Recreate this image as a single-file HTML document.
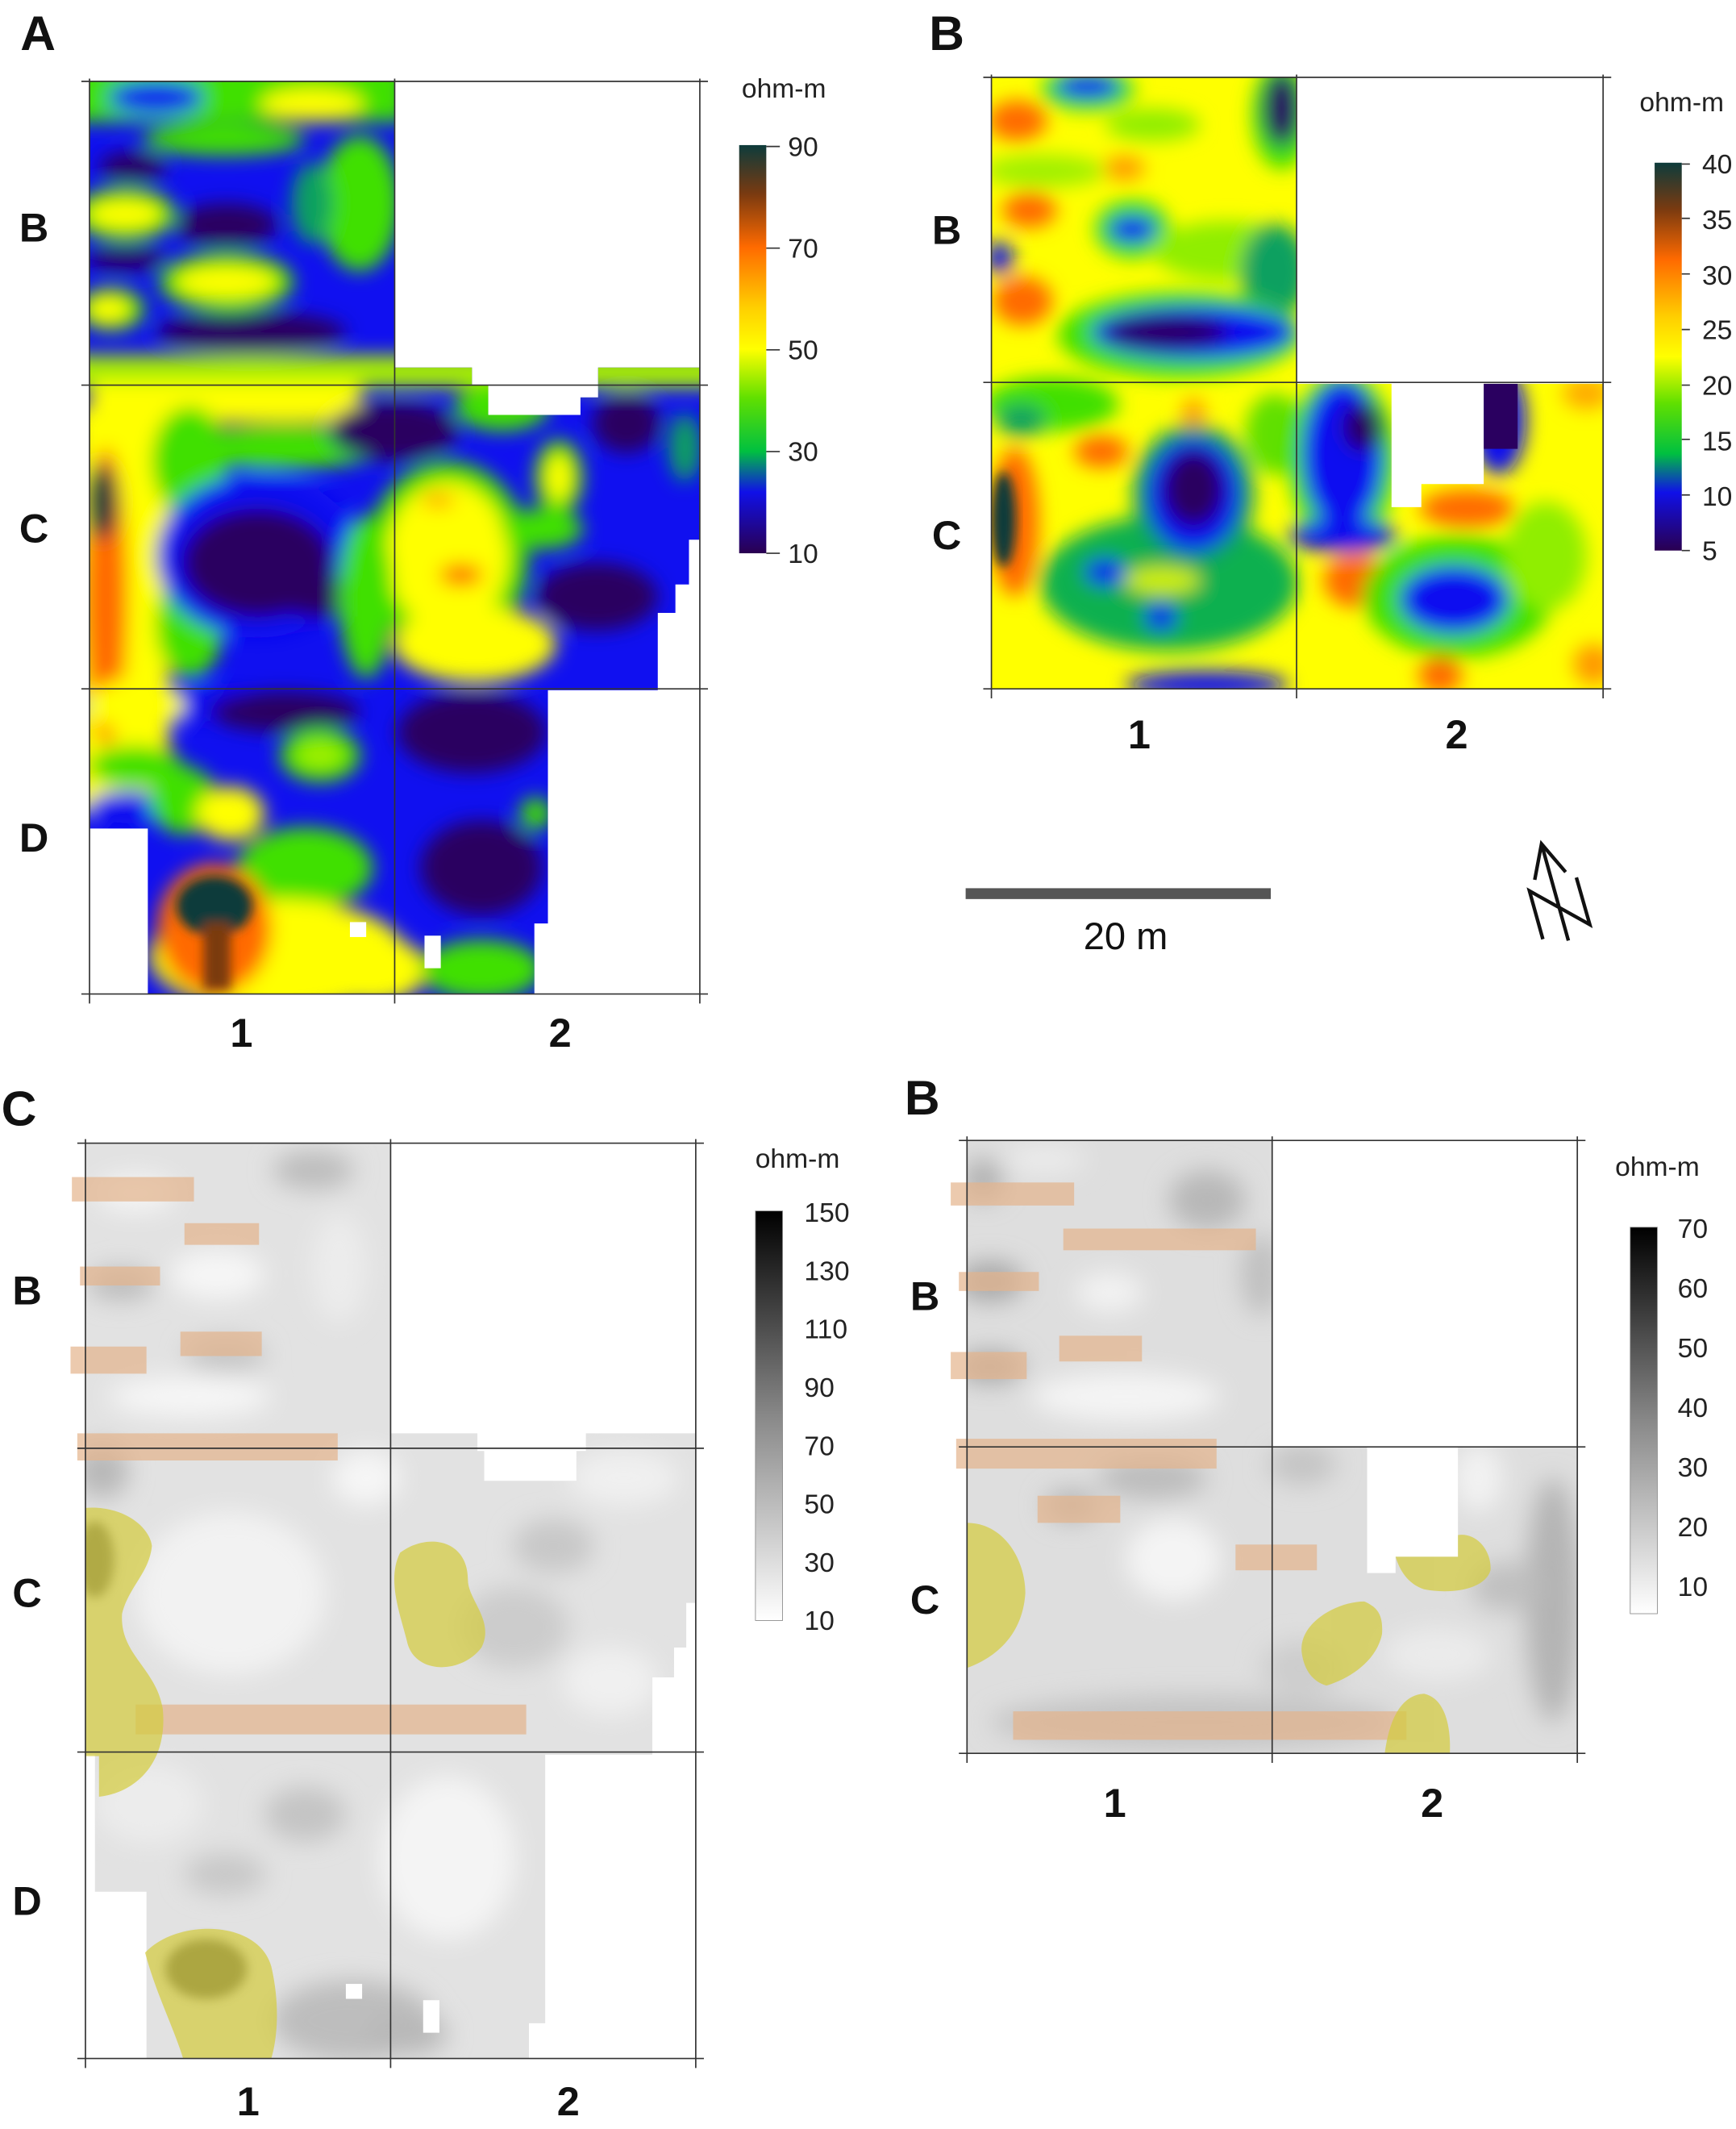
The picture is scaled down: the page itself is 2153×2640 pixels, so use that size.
<!DOCTYPE html>
<html><head><meta charset="utf-8"><style>
html,body{margin:0;padding:0;background:#fff}
svg{display:block}
text{font-family:"Liberation Sans",Arial,sans-serif}
.lab{font-size:30px;font-weight:bold;fill:#111}
.big{font-size:36px;font-weight:bold;fill:#111}
.tk{font-size:20px;fill:#222}
.un{font-size:20px;fill:#222}
</style></head><body>
<svg width="2153" height="2640" viewBox="0 0 1280 1570" preserveAspectRatio="none" xmlns="http://www.w3.org/2000/svg">
<defs>
<filter id="bl" x="-30%" y="-30%" width="160%" height="160%"><feGaussianBlur stdDeviation="7"/></filter>
<filter id="bs" x="-30%" y="-30%" width="160%" height="160%"><feGaussianBlur stdDeviation="4"/></filter>
<filter id="bg" x="-30%" y="-30%" width="160%" height="160%"><feGaussianBlur stdDeviation="9"/></filter>
<clipPath id="cA"><path d="M66,60H291V271H348V284H360V306H428V293H441V271H516V398H508V431H498V452H485V509H404V681H394V733H109V611H66Z"/></clipPath>
<clipPath id="cB"><path d="M731,57H956V283H1026V374H1048V357H1094V283H1182V508H731Z"/></clipPath>
<clipPath id="cC"><path d="M63,843H288V1057H352V1070H357V1092H425V1070H432V1057H513V1182H506V1215H497V1237H481V1294H402V1492H390V1518H108V1395H70V1294H63Z"/></clipPath>
<clipPath id="cD"><path d="M713,841H938V1067H1008V1160H1029V1148H1075V1067H1163V1293H713Z"/></clipPath>
<linearGradient id="gA" x1="0" y1="0" x2="0" y2="1">
<stop offset="0" stop-color="#0d3b3b"/><stop offset="0.12" stop-color="#7a3a10"/><stop offset="0.25" stop-color="#ff6a00"/><stop offset="0.4" stop-color="#ffd000"/><stop offset="0.5" stop-color="#ffff00"/><stop offset="0.62" stop-color="#60e000"/><stop offset="0.75" stop-color="#00c040"/><stop offset="0.85" stop-color="#1010e8"/><stop offset="1" stop-color="#2a0050"/></linearGradient>
<linearGradient id="gG" x1="0" y1="0" x2="0" y2="1"><stop offset="0" stop-color="#000"/><stop offset="0.5" stop-color="#888"/><stop offset="1" stop-color="#fff"/></linearGradient>
</defs>

<!-- Panel A -->
<g clip-path="url(#cA)">
<rect x="50" y="45" width="490" height="710" fill="#1010f0"/>
<g filter="url(#bl)">
<rect x="50" y="45" width="250" height="45" fill="#40e000"/>
<ellipse cx="230" cy="77" rx="38" ry="12" fill="#ffff00"/>
<ellipse cx="115" cy="72" rx="35" ry="12" fill="#1010f0"/>
<ellipse cx="165" cy="103" rx="60" ry="12" fill="#40e000"/>
<ellipse cx="98" cy="123" rx="25" ry="11" fill="#2a0060"/>
<ellipse cx="92" cy="158" rx="38" ry="20" fill="#40e000"/>
<ellipse cx="92" cy="158" rx="28" ry="11" fill="#ffff00"/>
<ellipse cx="167" cy="166" rx="38" ry="16" fill="#2a0060"/>
<ellipse cx="93" cy="191" rx="30" ry="9" fill="#2a0060"/>
<ellipse cx="167" cy="208" rx="50" ry="22" fill="#40e000"/>
<ellipse cx="167" cy="208" rx="38" ry="12" fill="#ffff00"/>
<ellipse cx="82" cy="228" rx="25" ry="16" fill="#40e000"/>
<ellipse cx="80" cy="228" rx="16" ry="10" fill="#ffff00"/>
<ellipse cx="185" cy="245" rx="70" ry="15" fill="#2a0060"/>
<ellipse cx="265" cy="150" rx="30" ry="50" fill="#40e000"/>
<ellipse cx="230" cy="150" rx="15" ry="30" fill="#10a060"/>
<rect x="50" y="262" width="490" height="24" fill="#a8f000"/>
<rect x="66" y="282" width="200" height="30" fill="#ffff00"/>
<ellipse cx="210" cy="330" rx="75" ry="16" fill="#40e000"/>
<ellipse cx="290" cy="318" rx="48" ry="22" fill="#2a0060"/>
<ellipse cx="370" cy="300" rx="35" ry="18" fill="#40e000"/>
<ellipse cx="462" cy="312" rx="25" ry="22" fill="#2a0060"/>
<ellipse cx="505" cy="330" rx="12" ry="25" fill="#10a060"/>
<rect x="55" y="300" width="70" height="300" fill="#ffff00"/>
<ellipse cx="78" cy="440" rx="16" ry="110" fill="#ff6a00"/>
<ellipse cx="75" cy="370" rx="12" ry="28" fill="#0d3b3b"/>
<ellipse cx="140" cy="340" rx="28" ry="40" fill="#40e000"/>
<ellipse cx="140" cy="460" rx="25" ry="40" fill="#40e000"/>
<ellipse cx="190" cy="410" rx="75" ry="60" fill="#1010f0"/>
<ellipse cx="190" cy="415" rx="55" ry="40" fill="#2a0060"/>
<ellipse cx="240" cy="440" rx="40" ry="15" fill="#2a0060"/>
<ellipse cx="330" cy="410" rx="60" ry="70" fill="#40e000"/>
<ellipse cx="330" cy="410" rx="45" ry="55" fill="#ffff00"/>
<ellipse cx="350" cy="475" rx="60" ry="28" fill="#ffff00"/>
<ellipse cx="270" cy="440" rx="20" ry="60" fill="#40e000"/>
<ellipse cx="340" cy="424" rx="16" ry="8" fill="#ff6a00"/>
<ellipse cx="323" cy="369" rx="12" ry="5" fill="#ff9900"/>
<ellipse cx="412" cy="352" rx="18" ry="28" fill="#40e000"/>
<ellipse cx="412" cy="352" rx="10" ry="18" fill="#ffff00"/>
<ellipse cx="400" cy="390" rx="30" ry="15" fill="#40e000"/>
<ellipse cx="440" cy="440" rx="45" ry="25" fill="#2a0060"/>
<ellipse cx="140" cy="520" rx="80" ry="12" fill="#1010f0"/>
<ellipse cx="100" cy="520" rx="35" ry="20" fill="#ffff00"/>
<ellipse cx="210" cy="525" rx="55" ry="15" fill="#2a0060"/>
<ellipse cx="236" cy="557" rx="30" ry="20" fill="#40e000"/>
<ellipse cx="236" cy="557" rx="18" ry="10" fill="#a0f000"/>
<ellipse cx="100" cy="565" rx="35" ry="15" fill="#40e000"/>
<ellipse cx="95" cy="595" rx="30" ry="12" fill="#1010f0"/>
<ellipse cx="135" cy="590" rx="25" ry="25" fill="#40e000"/>
<ellipse cx="170" cy="600" rx="25" ry="20" fill="#ffff00"/>
<ellipse cx="348" cy="540" rx="55" ry="30" fill="#2a0060"/>
<ellipse cx="355" cy="640" rx="45" ry="35" fill="#2a0060"/>
<ellipse cx="395" cy="600" rx="12" ry="12" fill="#40e000"/>
<ellipse cx="225" cy="640" rx="50" ry="30" fill="#40e000"/>
<ellipse cx="205" cy="705" rx="95" ry="42" fill="#ffff00"/>
<ellipse cx="275" cy="715" rx="40" ry="25" fill="#ffff00"/>
<ellipse cx="355" cy="715" rx="45" ry="22" fill="#40e000"/>
<ellipse cx="158" cy="685" rx="42" ry="48" fill="#ff6a00"/>
</g>
<g filter="url(#bs)">
<ellipse cx="158" cy="668" rx="28" ry="22" fill="#0d3b3b"/>
<rect x="150" y="680" width="20" height="50" fill="#7a3a10"/>
</g>
<rect x="258" y="680" width="12" height="11" fill="#fff"/>
<rect x="313" y="690" width="12" height="24" fill="#fff"/>
</g>
<path d="M66,58V740M291,58V740M516,58V740M60,60H522M60,284H522M60,508H522M60,733H522" stroke="#333" fill="none"/>
<text x="28" y="37" class="big" text-anchor="middle">A</text>
<text x="25" y="178" class="lab" text-anchor="middle">B</text>
<text x="25" y="400" class="lab" text-anchor="middle">C</text>
<text x="25" y="628" class="lab" text-anchor="middle">D</text>
<text x="178" y="772" class="lab" text-anchor="middle">1</text>
<text x="413" y="772" class="lab" text-anchor="middle">2</text>
<text x="578" y="72" class="un" text-anchor="middle">ohm-m</text>
<rect x="545" y="107" width="20" height="301" fill="url(#gA)"/>
<g class="tk"><text x="581" y="115">90</text><text x="581" y="190">70</text><text x="581" y="265">50</text><text x="581" y="340">30</text><text x="581" y="415">10</text></g>
<path d="M565,108h10M565,183h10M565,258h10M565,333h10M565,408h10" stroke="#333"/>

<!-- Panel B top -->
<g clip-path="url(#cB)">
<rect x="715" y="45" width="485" height="480" fill="#ffff00"/>
<g filter="url(#bl)">
<ellipse cx="802" cy="66" rx="35" ry="16" fill="#40e000"/>
<ellipse cx="802" cy="64" rx="24" ry="9" fill="#1010f0"/>
<ellipse cx="850" cy="92" rx="35" ry="12" fill="#90ee00"/>
<ellipse cx="945" cy="85" rx="22" ry="40" fill="#40e000"/>
<ellipse cx="945" cy="80" rx="14" ry="28" fill="#2a0060"/>
<ellipse cx="750" cy="89" rx="22" ry="15" fill="#ff6a00"/>
<ellipse cx="829" cy="124" rx="15" ry="9" fill="#ff9900"/>
<ellipse cx="770" cy="126" rx="45" ry="12" fill="#a0f000"/>
<ellipse cx="759" cy="155" rx="20" ry="13" fill="#ff6a00"/>
<ellipse cx="835" cy="169" rx="28" ry="22" fill="#40e000"/>
<ellipse cx="835" cy="169" rx="18" ry="10" fill="#1010f0"/>
<ellipse cx="737" cy="190" rx="10" ry="12" fill="#1010f0"/>
<ellipse cx="754" cy="222" rx="22" ry="18" fill="#ff6a00"/>
<ellipse cx="905" cy="185" rx="55" ry="22" fill="#90ee00"/>
<ellipse cx="940" cy="200" rx="25" ry="35" fill="#10a060"/>
<ellipse cx="870" cy="247" rx="90" ry="32" fill="#40e000"/>
<ellipse cx="880" cy="245" rx="75" ry="20" fill="#1010f0"/>
<ellipse cx="860" cy="245" rx="45" ry="12" fill="#2a0060"/>
<ellipse cx="775" cy="298" rx="50" ry="20" fill="#40e000"/>
<ellipse cx="753" cy="310" rx="18" ry="12" fill="#10a060"/>
<ellipse cx="812" cy="333" rx="20" ry="12" fill="#ff6a00"/>
<ellipse cx="880" cy="305" rx="8" ry="12" fill="#ff9900"/>
<ellipse cx="940" cy="320" rx="22" ry="30" fill="#60e000"/>
<ellipse cx="748" cy="385" rx="18" ry="55" fill="#ff6a00"/>
<ellipse cx="862" cy="430" rx="95" ry="50" fill="#10b050"/>
<ellipse cx="880" cy="365" rx="45" ry="52" fill="#10a060"/>
<ellipse cx="880" cy="365" rx="35" ry="42" fill="#1010f0"/>
<ellipse cx="880" cy="360" rx="22" ry="28" fill="#2a0060"/>
<ellipse cx="857" cy="428" rx="28" ry="10" fill="#d0f000"/>
<ellipse cx="815" cy="422" rx="15" ry="10" fill="#1010f0"/>
<ellipse cx="856" cy="455" rx="12" ry="10" fill="#1010f0"/>
<ellipse cx="890" cy="505" rx="60" ry="10" fill="#1010f0"/>
<ellipse cx="990" cy="340" rx="40" ry="65" fill="#40e000"/>
<ellipse cx="990" cy="335" rx="30" ry="55" fill="#1010f0"/>
<ellipse cx="1005" cy="315" rx="15" ry="18" fill="#2a0060"/>
<ellipse cx="1105" cy="310" rx="20" ry="40" fill="#1010f0"/>
<ellipse cx="1082" cy="375" rx="35" ry="14" fill="#ff6a00"/>
<ellipse cx="1000" cy="428" rx="24" ry="20" fill="#ff6a00"/>
<ellipse cx="1075" cy="440" rx="70" ry="45" fill="#40e000"/>
<ellipse cx="1072" cy="442" rx="40" ry="25" fill="#1010f0"/>
<ellipse cx="990" cy="395" rx="40" ry="12" fill="#1010f0"/>
<ellipse cx="1140" cy="410" rx="30" ry="40" fill="#90ee00"/>
<ellipse cx="1062" cy="498" rx="16" ry="14" fill="#ff6a00"/>
<ellipse cx="1170" cy="290" rx="18" ry="12" fill="#ffaa00"/>
<ellipse cx="1175" cy="490" rx="15" ry="15" fill="#ff9900"/>
</g>
<ellipse cx="740" cy="383" rx="9" ry="35" fill="#0d3b3b" filter="url(#bs)"/>
<rect x="1094" y="283" width="25" height="48" fill="#2a0060"/>
</g>
<path d="M731,55V515M956,55V515M1182,55V515M725,57H1188M725,282H1188M725,508H1188" stroke="#333" fill="none"/>
<text x="698" y="37" class="big" text-anchor="middle">B</text>
<text x="698" y="180" class="lab" text-anchor="middle">B</text>
<text x="698" y="405" class="lab" text-anchor="middle">C</text>
<text x="840" y="552" class="lab" text-anchor="middle">1</text>
<text x="1074" y="552" class="lab" text-anchor="middle">2</text>
<text x="1240" y="82" class="un" text-anchor="middle">ohm-m</text>
<rect x="1220" y="120" width="20" height="286" fill="url(#gA)"/>
<g class="tk"><text x="1255" y="128">40</text><text x="1255" y="169">35</text><text x="1255" y="210">30</text><text x="1255" y="250">25</text><text x="1255" y="291">20</text><text x="1255" y="332">15</text><text x="1255" y="373">10</text><text x="1255" y="413">5</text></g>
<path d="M1240,121h6M1240,161h6M1240,202h6M1240,243h6M1240,284h6M1240,324h6M1240,365h6M1240,406h6" stroke="#333"/>
<rect x="712" y="655" width="225" height="8" fill="#555"/>
<text x="830" y="700" font-size="28" text-anchor="middle" fill="#111">20 m</text>
<g stroke="#111" stroke-width="2.6" fill="none">
<path d="M1136.6,622.3L1156.4,693.6M1131.6,648.8L1136.6,622.3L1154.4,643.1M1137.6,692.6L1127.7,657L1172.2,681.8L1162.3,647.1"/>
</g>

<!-- Panel C bottom-left -->
<g clip-path="url(#cC)">
<rect x="55" y="835" width="470" height="690" fill="#e2e2e2"/>
<g filter="url(#bg)">
<ellipse cx="231" cy="863" rx="30" ry="14" fill="#bcbcbc"/>
<ellipse cx="89" cy="947" rx="25" ry="12" fill="#bcbcbc"/>
<ellipse cx="166" cy="999" rx="30" ry="12" fill="#c4c4c4"/>
<ellipse cx="100" cy="880" rx="30" ry="14" fill="#f4f4f4"/>
<ellipse cx="160" cy="940" rx="35" ry="18" fill="#f6f6f6"/>
<ellipse cx="140" cy="1030" rx="60" ry="15" fill="#f6f6f6"/>
<ellipse cx="250" cy="935" rx="20" ry="40" fill="#ececec"/>
<ellipse cx="75" cy="1085" rx="20" ry="20" fill="#b8b8b8"/>
<ellipse cx="170" cy="1175" rx="70" ry="60" fill="#f2f2f2"/>
<ellipse cx="270" cy="1090" rx="25" ry="20" fill="#f6f6f6"/>
<ellipse cx="408" cy="1140" rx="30" ry="20" fill="#c8c8c8"/>
<ellipse cx="379" cy="1200" rx="40" ry="30" fill="#cccccc"/>
<ellipse cx="460" cy="1090" rx="40" ry="20" fill="#f0f0f0"/>
<ellipse cx="450" cy="1240" rx="35" ry="25" fill="#f0f0f0"/>
<ellipse cx="225" cy="1338" rx="30" ry="20" fill="#c4c4c4"/>
<ellipse cx="166" cy="1382" rx="30" ry="15" fill="#c8c8c8"/>
<ellipse cx="330" cy="1370" rx="50" ry="60" fill="#f4f4f4"/>
<ellipse cx="260" cy="1490" rx="60" ry="30" fill="#bdbdbd"/>
<ellipse cx="300" cy="1500" rx="30" ry="15" fill="#b8b8b8"/>
<ellipse cx="110" cy="1330" rx="40" ry="30" fill="#ececec"/>
</g>
<g filter="url(#bs)">
<ellipse cx="70" cy="1150" rx="14" ry="28" fill="#555"/>
<ellipse cx="152" cy="1452" rx="30" ry="22" fill="#444"/>
</g>
<rect x="255" y="1463" width="12" height="11" fill="#fff"/>
<rect x="312" y="1475" width="12" height="24" fill="#fff"/>
</g>
<g fill="#e4b48c" opacity="0.7">
<rect x="53" y="868" width="90" height="18"/><rect x="136" y="902" width="55" height="16"/><rect x="59" y="934" width="59" height="14"/><rect x="133" y="982" width="60" height="18"/><rect x="52" y="993" width="56" height="20"/><rect x="57" y="1057" width="192" height="20"/><rect x="100" y="1257" width="288" height="22"/>
</g>
<g fill="#d4cc40" opacity="0.72">
<path d="M63,1112C90,1110 110,1125 112,1140C110,1160 95,1170 90,1190C88,1220 115,1230 120,1260C124,1300 100,1322 73,1325L73,1295L63,1295Z"/>
<path d="M295,1145C315,1130 345,1135 345,1165C345,1180 365,1195 355,1215C340,1235 305,1235 300,1210C295,1190 285,1165 295,1145Z"/>
<path d="M107,1440C130,1415 190,1415 200,1450C207,1480 204,1505 200,1518H135C128,1495 115,1470 107,1440Z"/>
</g>
<path d="M63,840V1525M288,840V1525M513,840V1525M57,843H519M57,1068H519M57,1292H519M57,1518H519" stroke="#333" fill="none"/>
<text x="14" y="830" class="big" text-anchor="middle">C</text>
<text x="20" y="962" class="lab" text-anchor="middle">B</text>
<text x="20" y="1185" class="lab" text-anchor="middle">C</text>
<text x="20" y="1412" class="lab" text-anchor="middle">D</text>
<text x="183" y="1560" class="lab" text-anchor="middle">1</text>
<text x="419" y="1560" class="lab" text-anchor="middle">2</text>
<text x="588" y="861" class="un" text-anchor="middle">ohm-m</text>
<rect x="557" y="893" width="20" height="302" fill="url(#gG)" stroke="#888" stroke-width="0.5"/>
<g class="tk"><text x="593" y="901">150</text><text x="593" y="944">130</text><text x="593" y="987">110</text><text x="593" y="1030">90</text><text x="593" y="1073">70</text><text x="593" y="1116">50</text><text x="593" y="1159">30</text><text x="593" y="1202">10</text></g>

<!-- Panel B bottom-right -->
<g clip-path="url(#cD)">
<rect x="705" y="835" width="465" height="465" fill="#dedede"/>
<g filter="url(#bg)">
<ellipse cx="725" cy="870" rx="15" ry="15" fill="#b0b0b0"/>
<ellipse cx="890" cy="885" rx="28" ry="22" fill="#b8b8b8"/>
<ellipse cx="730" cy="945" rx="25" ry="15" fill="#a8a8a8"/>
<ellipse cx="730" cy="1008" rx="25" ry="12" fill="#a8a8a8"/>
<ellipse cx="818" cy="953" rx="25" ry="15" fill="#f2f2f2"/>
<ellipse cx="830" cy="1030" rx="70" ry="18" fill="#f4f4f4"/>
<ellipse cx="770" cy="855" rx="30" ry="10" fill="#ececec"/>
<ellipse cx="930" cy="940" rx="15" ry="30" fill="#c0c0c0"/>
<ellipse cx="850" cy="1090" rx="40" ry="15" fill="#bcbcbc"/>
<ellipse cx="865" cy="1150" rx="35" ry="30" fill="#f4f4f4"/>
<ellipse cx="790" cy="1110" rx="20" ry="12" fill="#b8b8b8"/>
<ellipse cx="1145" cy="1180" rx="20" ry="90" fill="#b4b4b4"/>
<ellipse cx="960" cy="1080" rx="25" ry="15" fill="#c4c4c4"/>
<ellipse cx="1090" cy="1090" rx="18" ry="25" fill="#f2f2f2"/>
<ellipse cx="1110" cy="1170" rx="25" ry="18" fill="#c0c0c0"/>
<ellipse cx="880" cy="1270" rx="150" ry="20" fill="#c4c4c4"/>
<ellipse cx="960" cy="1230" rx="30" ry="20" fill="#cdcdcd"/>
<ellipse cx="1060" cy="1220" rx="40" ry="20" fill="#ebebeb"/>
</g>
</g>
<g fill="#e4b48c" opacity="0.7">
<rect x="701" y="872" width="91" height="17"/><rect x="784" y="906" width="142" height="16"/><rect x="707" y="938" width="59" height="14"/><rect x="781" y="985" width="61" height="19"/><rect x="701" y="997" width="56" height="20"/><rect x="705" y="1061" width="192" height="22"/><rect x="765" y="1103" width="61" height="20"/><rect x="911" y="1139" width="60" height="19"/><rect x="747" y="1262" width="290" height="21"/>
</g>
<g fill="#d4cc40" opacity="0.72">
<path d="M713,1123C740,1123 756,1150 756,1175C754,1205 735,1222 713,1230Z"/>
<path d="M960,1220C956,1198 985,1181 1006,1181C1015,1185 1020,1190 1019,1205C1015,1225 995,1238 978,1243C968,1240 962,1232 960,1220Z"/>
<path d="M1029,1148H1075V1132C1090,1130 1100,1145 1099,1158C1095,1172 1070,1176 1050,1172C1038,1168 1032,1158 1029,1148Z"/>
<path d="M1021,1293C1024,1270 1032,1250 1050,1249C1064,1252 1070,1270 1069,1293Z"/>
</g>
<path d="M713,838V1300M938,838V1300M1163,838V1300M707,841H1169M707,1067H1169M707,1293H1169" stroke="#333" fill="none"/>
<text x="680" y="822" class="big" text-anchor="middle">B</text>
<text x="682" y="966" class="lab" text-anchor="middle">B</text>
<text x="682" y="1190" class="lab" text-anchor="middle">C</text>
<text x="822" y="1340" class="lab" text-anchor="middle">1</text>
<text x="1056" y="1340" class="lab" text-anchor="middle">2</text>
<text x="1222" y="867" class="un" text-anchor="middle">ohm-m</text>
<rect x="1202" y="905" width="20" height="285" fill="url(#gG)" stroke="#888" stroke-width="0.5"/>
<g class="tk"><text x="1237" y="913">70</text><text x="1237" y="957">60</text><text x="1237" y="1001">50</text><text x="1237" y="1045">40</text><text x="1237" y="1089">30</text><text x="1237" y="1133">20</text><text x="1237" y="1177">10</text></g>
</svg>
</body></html>
